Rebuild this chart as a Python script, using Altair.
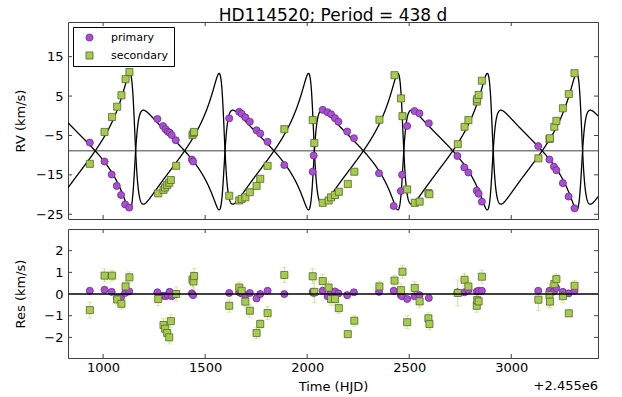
import numpy as np
import pandas as pd
import altair as alt

# ---------------- text ----------------
TITLE = "HD114520; Period = 438 d"
OFFSET_LABEL = "+2.455e6"
LEGEND_NAMES = ["primary", "secondary"]

# ---------------- observations (time = HJD - 2455000) ----------------
p_time = [935, 1007, 1042, 1067, 1088, 1108, 1128,
          1266, 1294, 1306, 1317, 1326, 1336, 1356, 1435, 1441,
          1618, 1667, 1679, 1697, 1719, 1752, 1770, 1806, 1888,
          2027, 2032, 2076, 2100, 2117, 2136, 2153, 2196, 2229,
          2352, 2424, 2459, 2465, 2490, 2526, 2550, 2596,
          2736, 2770, 2790, 2831, 2840, 2856,
          3132, 3187, 3209, 3221, 3253, 3281, 3310]
p_rv = [-6.8, -11.6, -14.9, -17.8, -20.1, -22.5, -23.3,
        -0.8, -2.6, -3.4, -4.0, -4.3, -4.9, -6.2, -11.1, -11.6,
        -0.65, 1.0, 0.5, -0.4, -1.5, -3.7, -4.5, -6.6, -12.5,
        -14.2, -10.1, 1.5, 0.9, 0.4, -0.6, -1.5, -4.0, -5.7,
        -14.6, -22.9, -19.1, -15.0, -2.6, 1.2, 0.6, -1.9,
        -10.2, -13.1, -14.4, -19.0, -19.8, -21.8,
        -7.7, -11.1, -12.9, -13.8, -17.1, -20.5, -23.5]
p_res = [0.15, 0.2, 0.1, -0.18, -0.15, 0.05, 0.12,
         0.08, -0.08, -0.1, -0.05, 0.1, -0.1, 0.0, 0.03, -0.05,
         0.05, 0.08, 0.03, -0.05, 0.05, -0.2, 0.0, 0.15, 0.0,
         0.1, 0.05, 0.15, -0.1, 0.12, 0.12, 0.03, -0.05, 0.08,
         0.1, 0.15, -0.05, -0.1, -0.23, -0.1, -0.05, -0.18,
         0.08, 0.08, 0.18, 0.12, 0.15, 0.15,
         0.15, 0.15, 0.12, 0.28, 0.1, 0.03, 0.15]

s_time = [935, 1007, 1044, 1069, 1090, 1110, 1129,
          1270, 1296, 1304, 1314, 1324, 1332, 1358, 1438, 1443, 1446,
          1618, 1667, 1679, 1697, 1719, 1752, 1770, 1806, 1888,
          2027, 2035, 2076, 2105, 2117, 2136, 2155, 2199, 2231,
          2354, 2428, 2460, 2467, 2490, 2527, 2551, 2594, 2599,
          2738, 2771, 2790, 2831, 2833, 2840, 2856,
          3133, 3187, 3190, 3211, 3221, 3253, 3282, 3310]
s_rv = [-12.2, -4.1, -0.3, 2.3, 5.2, 9.3, 11.1,
        -19.7, -18.8, -18.2, -17.6, -17.0, -16.3, -12.7, -4.9, -4.4, -4.1,
        -20.3, -21.5, -21.1, -20.7, -19.4, -17.8, -16.0, -12.7, -3.4,
        -1.1, -6.9, -22.1, -21.5, -20.7, -20.1, -19.3, -17.3, -14.2,
        -1.0, 10.3, 4.4, -0.1, -18.7, -22.1, -21.8, -19.6, -19.9,
        -7.2, -2.8, -1.1, 3.6, 4.2, 5.3, 8.9,
        -10.8, -5.9, -5.7, -2.8, -1.3, 1.9, 5.5, 10.8]
s_res = [-0.74, 0.85, 0.85, -0.25, -0.45, 0.35, 0.77,
         -0.23, -1.43, -1.6, -1.8, -2.0, -1.25, 0.0, 0.67, 0.58, 0.83,
         -0.54, 0.3, 0.15, -0.35, -0.77, -1.8, -1.38, -0.88, 0.88,
         0.82, 0.1, 0.6, 0.3, -0.23, -0.23, -0.65, -1.85, -1.23,
         0.35, 0.62, 0.18, 1.03, -1.3, 0.28, -0.34, -1.12, -1.38,
         0.05, 0.66, 0.35, -0.54, -0.28, -0.34, 0.8,
         -0.26, -0.05, -0.35, 0.46, 0.69, -0.1, -0.89, 0.38]
s_err = [0.37, 0.3, 0.25, 0.25, 0.25, 0.25, 0.25,
         0.3, 0.3, 0.3, 0.3, 0.3, 0.3, 0.33, 0.35, 0.35, 0.35,
         0.3, 0.25, 0.25, 0.25, 0.3, 0.25, 0.2, 0.3, 0.35,
         0.35, 0.5, 0.3, 0.3, 0.3, 0.25, 0.25, 0.15, 0.25,
         0.25, 0.25, 0.3, 0.3, 0.3, 0.3, 0.3, 0.25, 0.25,
         0.6, 0.3, 0.3, 0.3, 0.3, 0.3, 0.3,
         0.5, 0.55, 0.3, 0.3, 0.25, 0.3, 0.15, 0.25]

# ---------------- orbital elements ----------------
PERIOD = 438.0
T_PERI = 1152.3
ECC = 0.6
OMEGA_DEG = 252.1
K1 = 12.65
K2 = 16.6
GAMMA = -8.9
MODEL_T0, MODEL_T1, MODEL_STEP = 828.0, 3425.0, 1.0

X_TICKS = [1000, 1500, 2000, 2500, 3000]
Y1_TICKS = [15, 5, -5, -15, -25]
Y2_TICKS = [2, 1, 0, -1, -2]

# ---------------- style ----------------
FONT = "DejaVu Sans"
PURPLE, PURPLE_EDGE = "#a94fd2", "#6a2c8c"
GREEN, GREEN_EDGE = "#a5cc4b", "#5a6633"
GREEN_BAR = "#c9e290"
FRAME = "#404040"
W, H1, H2 = 530, 197, 129

# ---------------- model curve ----------------
tm = np.arange(MODEL_T0, MODEL_T1 + 0.01, MODEL_STEP)
M = 2 * np.pi * (tm - T_PERI) / PERIOD
M = np.mod(M + np.pi, 2 * np.pi) - np.pi
E = M + ECC * np.sin(M)
for _ in range(60):
    E = E - (E - ECC * np.sin(E) - M) / (1 - ECC * np.cos(E))
nu = 2 * np.arctan2(np.sqrt(1 + ECC) * np.sin(E / 2), np.sqrt(1 - ECC) * np.cos(E / 2))
w = np.radians(OMEGA_DEG)
shape_term = np.cos(nu + w) + ECC * np.cos(w)
model = pd.concat([
    pd.DataFrame({"t": tm, "rv": GAMMA + K1 * shape_term, "comp": "primary"}),
    pd.DataFrame({"t": tm, "rv": GAMMA - K2 * shape_term, "comp": "secondary"}),
])

obs = pd.concat([
    pd.DataFrame({"t": p_time, "rv": p_rv, "res": p_res, "comp": "primary"}),
    pd.DataFrame({"t": s_time, "rv": s_rv, "res": s_res, "comp": "secondary"}),
])
err = pd.DataFrame({"t": s_time, "rv": s_rv, "res": s_res, "e": s_err})
err["rv_lo"] = err.rv - err.e
err["rv_hi"] = err.rv + err.e
err["res_lo"] = err.res - err.e
err["res_hi"] = err.res + err.e
caps = pd.concat([
    pd.DataFrame({"t": err.t, "rv": err.rv_lo, "res": err.res_lo}),
    pd.DataFrame({"t": err.t, "rv": err.rv_hi, "res": err.res_hi}),
])

# ---------------- scales & axes ----------------
xs = alt.Scale(domain=[828, 3425], nice=False, zero=False)
y1s = alt.Scale(domain=[-26.2, 23.8], nice=False, zero=False)
y2s = alt.Scale(domain=[-2.95, 3.0], nice=False, zero=False)
fill_s = alt.Scale(domain=LEGEND_NAMES, range=[PURPLE, GREEN])
shape_s = alt.Scale(domain=LEGEND_NAMES, range=["circle", "square"])
stroke_s = alt.Scale(domain=LEGEND_NAMES, range=[PURPLE_EDGE, GREEN_EDGE])

common_axis = dict(ticks=False, domain=False, grid=False, labelFont=FONT, titleFont=FONT,
                   labelFontSize=13, titleFontSize=13, titleFontWeight="normal",
                   labelColor="black", titleColor="black", format="d")
y1_axis = alt.Axis(values=Y1_TICKS, title="RV (km/s)", labelPadding=5,
                   titleX=-41, titleY=H1 / 2, **common_axis)
y2_axis = alt.Axis(values=Y2_TICKS, title="Res (km/s)", labelPadding=5,
                   titleX=-41, titleY=H2 / 2, **common_axis)
x2_axis = alt.Axis(values=X_TICKS, title="Time (HJD)", labelPadding=3, titlePadding=6,
                   **common_axis)

legend = alt.Legend(title=None, orient="top-left", offset=5, padding=5, symbolOffset=6,
                    labelOffset=16, strokeColor="black", fillColor="white",
                    labelFont=FONT, labelFontSize=11, labelColor="black", rowPadding=6,
                    symbolSize=50, symbolStrokeWidth=0.8, symbolStrokeColor="#555",
                    cornerRadius=0)

xt = pd.DataFrame({"v": X_TICKS})
y1t = pd.DataFrame({"v": Y1_TICKS})
y2t = pd.DataFrame({"v": Y2_TICKS})


def inward_ticks(h, yscale, ydf, yaxis, xaxis):
    lays = []
    for (a, b) in [(0, 4), (h, h - 4)]:
        lays.append(alt.Chart(xt).mark_rule(color=FRAME, strokeWidth=1).encode(
            x=alt.X("v:Q", scale=xs, axis=xaxis), y=alt.value(a), y2=alt.value(b)))
    for (a, b) in [(0, 4), (W, W - 4)]:
        lays.append(alt.Chart(ydf).mark_rule(color=FRAME, strokeWidth=1).encode(
            y=alt.Y("v:Q", scale=yscale, axis=yaxis), x=alt.value(a), x2=alt.value(b)))
    return lays


# ---------------- top panel ----------------
X_top = alt.X("t:Q", scale=xs, axis=None)
gamma_line = alt.Chart(pd.DataFrame({"rv": [GAMMA]})).mark_rule(color=FRAME, strokeWidth=1).encode(
    y=alt.Y("rv:Q", scale=y1s, axis=y1_axis))
curves = alt.Chart(model).mark_line(color="black", strokeWidth=1.3, clip=True).encode(
    x=X_top, y=alt.Y("rv:Q", scale=y1s, axis=y1_axis), detail="comp:N")
bars1 = alt.Chart(err).mark_rule(color=GREEN_BAR, strokeWidth=1).encode(
    x=X_top, y=alt.Y("rv_lo:Q", scale=y1s, axis=y1_axis), y2="rv_hi:Q")
caps1 = alt.Chart(caps).mark_tick(color=GREEN_BAR, orient="horizontal", size=5, thickness=1).encode(
    x=X_top, y=alt.Y("rv:Q", scale=y1s, axis=y1_axis))
pts1 = alt.Chart(obs).mark_point(filled=True, size=50, opacity=1, strokeWidth=0.8).encode(
    x=X_top, y=alt.Y("rv:Q", scale=y1s, axis=y1_axis),
    color=alt.Color("comp:N", scale=fill_s, legend=legend),
    shape=alt.Shape("comp:N", scale=shape_s, legend=legend),
    stroke=alt.Stroke("comp:N", scale=stroke_s, legend=None))

top = alt.layer(gamma_line, curves, bars1, caps1, pts1,
                *inward_ticks(H1, y1s, y1t, y1_axis, None)).properties(
    width=W, height=H1,
    title=alt.TitleParams(TITLE, font=FONT, fontSize=17, fontWeight="normal",
                          color="black", anchor="middle", offset=-3))

# ---------------- residual panel ----------------
X_bot = alt.X("t:Q", scale=xs, axis=x2_axis)
bars2 = alt.Chart(err).mark_rule(color=GREEN_BAR, strokeWidth=1).encode(
    x=X_bot, y=alt.Y("res_lo:Q", scale=y2s, axis=y2_axis), y2="res_hi:Q")
caps2 = alt.Chart(caps).mark_tick(color=GREEN_BAR, orient="horizontal", size=5, thickness=1).encode(
    x=X_bot, y=alt.Y("res:Q", scale=y2s, axis=y2_axis))
pts2 = alt.Chart(obs).mark_point(filled=True, size=50, opacity=1, strokeWidth=0.8).encode(
    x=X_bot, y=alt.Y("res:Q", scale=y2s, axis=y2_axis),
    color=alt.Color("comp:N", scale=fill_s, legend=None),
    shape=alt.Shape("comp:N", scale=shape_s, legend=None),
    stroke=alt.Stroke("comp:N", scale=stroke_s, legend=None))
zero_line = alt.Chart(pd.DataFrame({"res": [0.0]})).mark_rule(color="black", strokeWidth=1.6).encode(
    y=alt.Y("res:Q", scale=y2s, axis=y2_axis))
offset_text = alt.Chart(pd.DataFrame({"label": [OFFSET_LABEL]})).mark_text(
    align="right", baseline="middle", font=FONT, fontSize=13, color="black").encode(
    text="label:N", x=alt.value(W), y=alt.value(H2 + 28))

bottom = alt.layer(bars2, caps2, pts2, zero_line, offset_text,
                   *inward_ticks(H2, y2s, y2t, y2_axis, x2_axis)).properties(width=W, height=H2)

chart = alt.vconcat(top, bottom, spacing=6).properties(
    padding={"left": 13, "top": 6, "right": 5, "bottom": 2},
    background="white",
).configure_view(stroke=FRAME, strokeWidth=1).resolve_scale(color="shared")

chart.save("out.html", embed_options={"renderer": "svg", "actions": False})
